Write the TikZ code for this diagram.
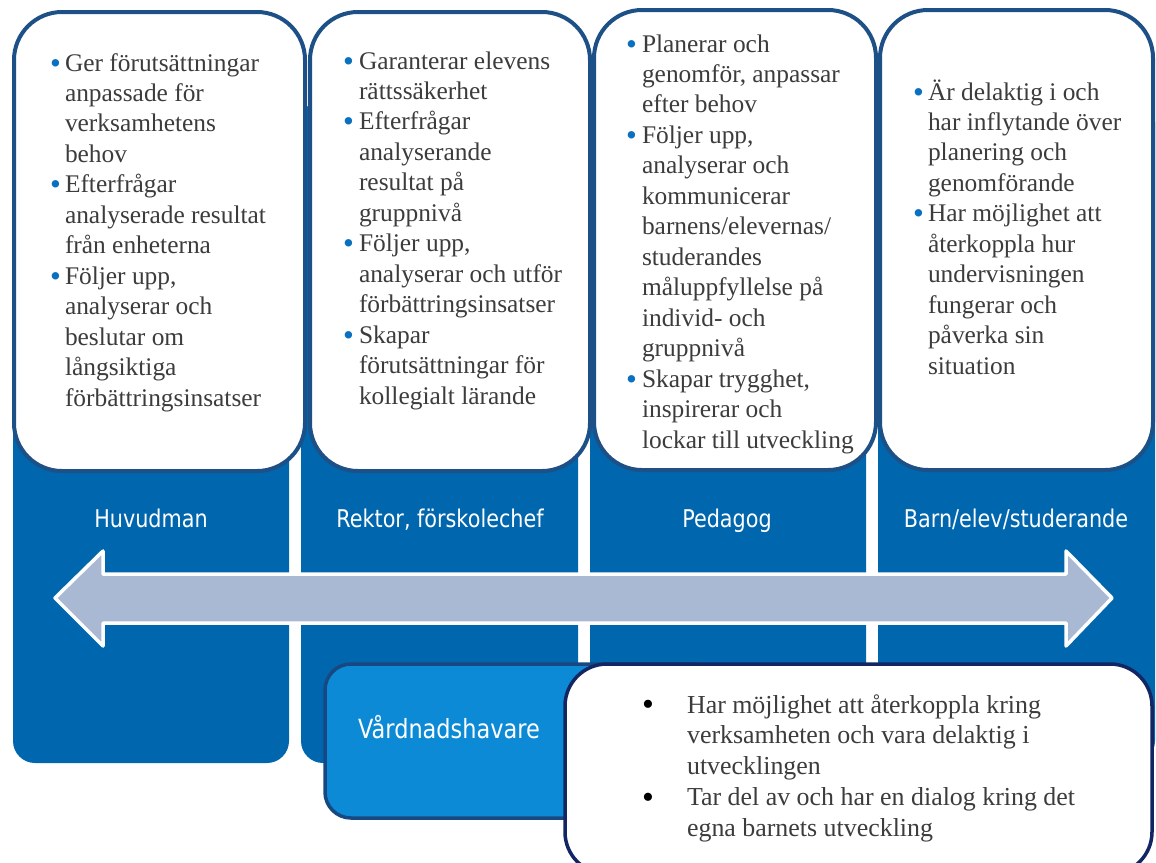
\documentclass[tikz,border=0pt]{standalone}
\usepackage{fontspec}
\setmainfont{Liberation Serif}
\newfontfamily\labelfont[FakeStretch=0.85]{DejaVu Sans}
\usepackage{xcolor}
\definecolor{colblue}{RGB}{0,102,174}
\definecolor{cardline}{RGB}{28,80,135}
\definecolor{arrowfill}{RGB}{170,185,211}
\definecolor{guardfill}{RGB}{12,138,214}
\definecolor{guardline}{RGB}{24,72,130}
\definecolor{boxline}{RGB}{18,38,100}
\definecolor{dotblue}{RGB}{10,112,192}
\definecolor{textgray}{RGB}{60,60,60}
\newcommand{\bul}{\raisebox{-2bp}{\textcolor{dotblue}{\fontsize{31}{0}\selectfont\textbullet}}}
\newcommand{\blk}{\raisebox{-2.5bp}{\textcolor{black}{\fontsize{34}{0}\selectfont\textbullet}}}

\begin{document}
\begin{tikzpicture}[x=1bp,y=-1bp,line join=round,
  column/.style={fill=colblue,rounded corners=22bp},
  card/.style={draw=cardline,fill=white,line width=4bp,rounded corners=48bp},
  rolelabel/.style={text=white,font=\labelfont\fontsize{24.5}{28}\selectfont,anchor=base,inner sep=0},
  cardtext/.style={text=textgray,font=\fontsize{25.5}{30.6}\selectfont,anchor=base west,inner sep=0}]
	\useasboundingbox (0,0) rectangle (1156,863);
	\clip (0,0) rectangle (1156,863);
	% columns
	\fill [column] (13,100) rectangle (289,763);
	\fill [column] (301,100) rectangle (578,763);
	\fill [column] (590,100) rectangle (866,763);
	\fill [column] (878,100) rectangle (1155,763);
	% cards
	\draw [card] (14,12) rectangle (305,471);
	\draw [card] (310,12) rectangle (590,471);
	\draw [card] (594,10) rectangle (876,470);
	\draw [card] (880,10) rectangle (1153,470);

	\node [cardtext] (huvudtext) at (50,71) {\begin{tabular}[t]{@{}l@{\hspace{4bp}}l@{}}
	\bul & Ger förutsättningar\\
	 & anpassade för\\
	 & verksamhetens\\
	 & behov\\
	\bul & Efterfrågar\\
	 & analyserade resultat\\
	 & från enheterna\\
	\bul & Följer upp,\\
	 & analyserar och\\
	 & beslutar om\\
	 & långsiktiga\\
	 & förbättringsinsatser
	\end{tabular}};
	\node [cardtext] (rektortext) at (343,69) {\begin{tabular}[t]{@{}l@{\hspace{5bp}}l@{}}
	\bul & Garanterar elevens\\
	 & rättssäkerhet\\
	\bul & Efterfrågar\\
	 & analyserande\\
	 & resultat på\\
	 & gruppnivå\\
	\bul & Följer upp,\\
	 & analyserar och utför\\
	 & förbättringsinsatser\\
	\bul & Skapar\\
	 & förutsättningar för\\
	 & kollegialt lärande
	\end{tabular}};
	\node [cardtext] (pedagogtext) at (626,52) {\begin{tabular}[t]{@{}l@{\hspace{5bp}}l@{}}
	\bul & Planerar och\\
	 & genomför, anpassar\\
	 & efter behov\\
	\bul & Följer upp,\\
	 & analyserar och\\
	 & kommunicerar\\
	 & barnens/elevernas/\\
	 & studerandes\\
	 & måluppfyllelse på\\
	 & individ- och\\
	 & gruppnivå\\
	\bul & Skapar trygghet,\\
	 & inspirerar och\\
	 & lockar till utveckling
	\end{tabular}};
	\node [cardtext] (barntext) at (913,100) {\begin{tabular}[t]{@{}l@{\hspace{4bp}}l@{}}
	\bul & Är delaktig i och\\
	 & har inflytande över\\
	 & planering och\\
	 & genomförande\\
	\bul & Har möjlighet att\\
	 & återkoppla hur\\
	 & undervisningen\\
	 & fungerar och\\
	 & påverka sin\\
	 & situation
	\end{tabular}};

	% role labels
	\node [rolelabel] (huvudman) at (151,527) {Huvudman};
	\node [rolelabel] (rektor) at (440,527) {Rektor, förskolechef};
	\node [rolelabel] (pedagog) at (727,527) {Pedagog};
	\node [rolelabel] (barn) at (1016,527) {Barn/elev/studerande};

	% double arrow
	\draw [line width=3.5bp,draw=white,fill=arrowfill] (55,598) -- (103,551) -- (103,574) -- (1066,574) -- (1066,551) -- (1112,598) -- (1066,646) -- (1066,623) -- (103,623) -- (103,646) -- cycle;

	% guardians
	\draw [line width=3.5bp,draw=guardline,fill=guardfill,rounded corners=26bp] (325,664) rectangle (720,818);
	\node [rolelabel,font=\labelfont\fontsize{26.5}{30}\selectfont] (vard) at (449,738) {Vårdnadshavare};
	\draw [line width=3.5bp,draw=boxline,fill=white,rounded corners=42bp] (565,664) rectangle (1152,874);
	\node [cardtext,font=\fontsize{26}{31}\selectfont] (vardtext) at (642,713) {\begin{tabular}[t]{@{}l@{\hspace{33bp}}l@{}}
	\blk & Har möjlighet att återkoppla kring\\
	 & verksamheten och vara delaktig i\\
	 & utvecklingen\\
	\blk & Tar del av och har en dialog kring det\\
	 & egna barnets utveckling
	\end{tabular}};
\end{tikzpicture}
\end{document}
